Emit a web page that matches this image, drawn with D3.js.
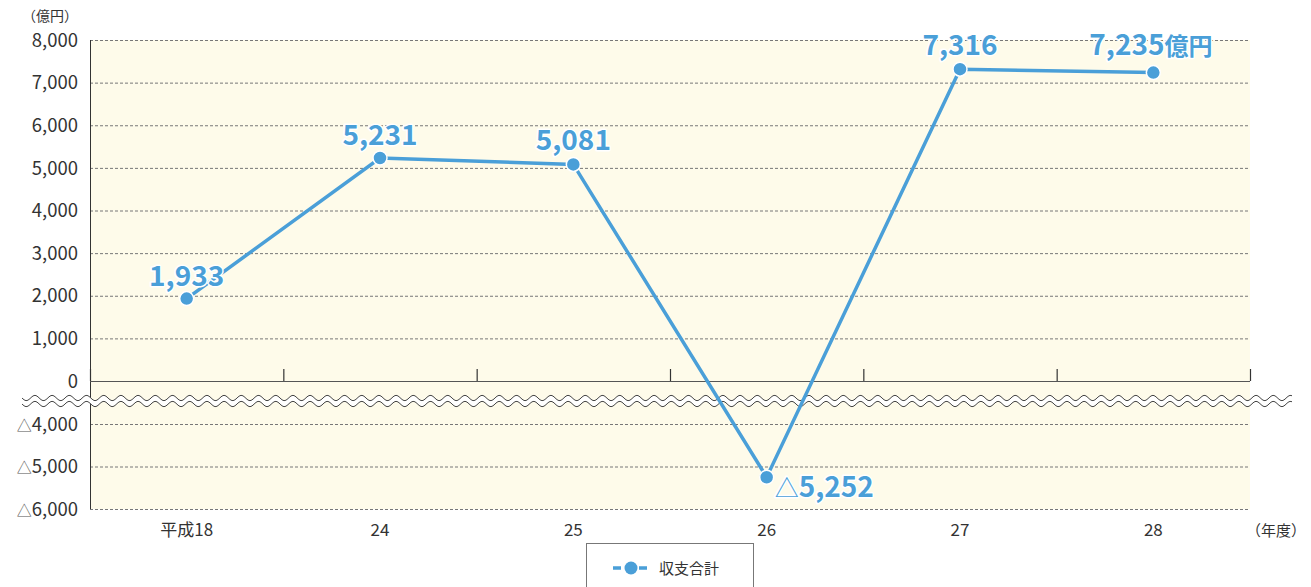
<!DOCTYPE html>
<html>
<head>
<meta charset="utf-8">
<script src="https://cdn.jsdelivr.net/npm/d3@7"></script>
<style>
  body { margin: 0; background: #fff; }
  text { font-family: "Noto Sans CJK JP", "Noto Sans", sans-serif; }
</style>
</head>
<body>
<div id="chart"></div>
<script>
// data
var years = ["平成18", "24", "25", "26", "27", "28"];
var values = [1933, 5231, 5081, -5252, 7316, 7235];
var topTicks = [0, 1000, 2000, 3000, 4000, 5000, 6000, 7000, 8000];
var bottomTicks = [-4000, -5000, -6000];
var seriesName = "収支合計";

var W = 1311, H = 587;
var left = 90, right = 1250;
var blue = "#4a9fd8";

var svg = d3.select("#chart").append("svg")
    .attr("width", W).attr("height", H);

var x = d3.scaleBand().domain(years).range([left, right]);
var yTop = d3.scaleLinear().domain([0, 8000]).range([381, 40]);
var yBot = d3.scaleLinear().domain([-6000, -4000]).range([509, 424]);
function y(v) { return v >= 0 ? yTop(v) : yBot(v); }

var fmt = d3.format(",");

// background
svg.append("rect")
    .attr("x", left).attr("y", yTop(8000))
    .attr("width", right - left).attr("height", yBot(-6000) - yTop(8000))
    .attr("fill", "#fefbea");

// grid
var grid = topTicks.filter(function(d){ return d > 0; }).map(yTop)
    .concat(bottomTicks.map(yBot));
svg.selectAll(".grid").data(grid).enter().append("line")
    .attr("x1", left).attr("x2", right)
    .attr("y1", function(d){ return d + 0.5; })
    .attr("y2", function(d){ return d + 0.5; })
    .attr("stroke", "#777").attr("stroke-width", 1)
    .attr("stroke-dasharray", "3,2");

// y tick labels
svg.selectAll(".yt").data(topTicks).enter().append("text")
    .attr("x", 78).attr("y", function(d){ return yTop(d); })
    .attr("dy", "0.36em").attr("text-anchor", "end")
    .attr("font-size", 18.5).attr("fill", "#333")
    .text(function(d){ return fmt(d); });
var yb = svg.selectAll(".yb").data(bottomTicks).enter().append("text")
    .attr("x", 78).attr("y", function(d){ return yBot(d); })
    .attr("dy", "0.36em").attr("text-anchor", "end")
    .attr("font-size", 18.5).attr("fill", "#333");
yb.append("tspan").attr("font-size", 15).attr("fill", "#555").text("△");
yb.append("tspan").text(function(d){ return fmt(-d); });

svg.append("text").attr("x", 50).attr("y", 21)
    .attr("text-anchor", "middle").attr("font-size", 14).attr("fill", "#333")
    .text("（億円）");

// left axis & zero line
svg.append("line").attr("x1", left + 0.5).attr("x2", left + 0.5)
    .attr("y1", yTop(8000)).attr("y2", yBot(-6000))
    .attr("stroke", "#333").attr("stroke-width", 1);
svg.append("line").attr("x1", left).attr("x2", right)
    .attr("y1", yTop(0) + 0.5).attr("y2", yTop(0) + 0.5)
    .attr("stroke", "#555").attr("stroke-width", 1.2);

var bounds = years.map(function(d){ return x(d); }).concat([right]);
svg.selectAll(".tick").data(bounds).enter().append("line")
    .attr("x1", function(d){ return d + 0.5; }).attr("x2", function(d){ return d + 0.5; })
    .attr("y1", yTop(0) - 12).attr("y2", yTop(0))
    .attr("stroke", "#333").attr("stroke-width", 1.2);

// x labels
svg.selectAll(".xl").data(years).enter().append("text")
    .attr("x", function(d){ return x(d) + x.bandwidth() / 2; })
    .attr("y", 536).attr("text-anchor", "middle")
    .attr("font-size", 17).attr("fill", "#333")
    .text(function(d){ return d; });
svg.append("text").attr("x", 1276).attr("y", 536)
    .attr("text-anchor", "middle").attr("font-size", 15).attr("fill", "#333")
    .text("（年度）");

// axis break: white band between two wavy lines
var period = 17.2, amp = 2.6;
function wave(y0) {
  var pts = [];
  for (var px = 22; px <= 1292; px += 1) {
    pts.push([px, y0 + amp * Math.sin((px - 22) / period * 2 * Math.PI)]);
  }
  return pts;
}
var w1 = wave(398), w2 = wave(404);
svg.append("path")
    .attr("d", d3.line()(w1.concat(w2.slice().reverse())) + "Z")
    .attr("fill", "#fff");
svg.append("path").attr("d", d3.line()(w1))
    .attr("fill", "none").attr("stroke", "#444").attr("stroke-width", 1);
svg.append("path").attr("d", d3.line()(w2))
    .attr("fill", "none").attr("stroke", "#444").attr("stroke-width", 1);

// series line
var pts = years.map(function(d, i){ return [x(d) + x.bandwidth() / 2, y(values[i])]; });
svg.append("path").attr("d", d3.line()(pts))
    .attr("fill", "none").attr("stroke", blue).attr("stroke-width", 3.5);
svg.selectAll(".dot").data(pts).enter().append("circle")
    .attr("cx", function(d){ return d[0]; }).attr("cy", function(d){ return d[1]; })
    .attr("r", 7).attr("fill", blue).attr("stroke", "#fff").attr("stroke-width", 1.5);

// value labels
var lblDx = [0, 0, 0, 8, 0, -64];
var lblDy = [-13, -13, -14, 20, -14, -18];
var lblAnchor = ["middle", "middle", "middle", "start", "middle", "start"];
var labels = svg.selectAll(".val").data(values).enter().append("text")
    .attr("x", function(d, i){ return pts[i][0] + lblDx[i]; })
    .attr("y", function(d, i){ return pts[i][1] + lblDy[i]; })
    .attr("text-anchor", function(d, i){ return lblAnchor[i]; })
    .attr("font-size", 28).attr("font-weight", "bold")
    .attr("fill", blue).attr("stroke", "#fff").attr("stroke-width", 3)
    .attr("paint-order", "stroke").attr("stroke-linejoin", "round");
labels.each(function(d, i){
  var t = d3.select(this);
  if (d < 0) {
    t.append("tspan").attr("font-weight", "normal").attr("font-size", 24).text("△");
    t.append("tspan").text(fmt(-d));
  } else {
    t.append("tspan").text(fmt(d));
  }
  if (i === values.length - 1) {
    t.append("tspan").attr("font-size", 24).text("億円");
  }
});

// legend
svg.append("rect").attr("x", 586.5).attr("y", 543.5)
    .attr("width", 167).attr("height", 60)
    .attr("fill", "#fff").attr("stroke", "#777").attr("stroke-width", 1);
svg.append("line").attr("x1", 613).attr("x2", 649)
    .attr("y1", 568).attr("y2", 568)
    .attr("stroke", blue).attr("stroke-width", 3.5).attr("stroke-dasharray", "8,5");
svg.append("circle").attr("cx", 631).attr("cy", 568).attr("r", 6.5).attr("fill", blue);
svg.append("text").attr("x", 659).attr("y", 574)
    .attr("font-size", 15).attr("fill", "#333").text(seriesName);
</script>
</body>
</html>
